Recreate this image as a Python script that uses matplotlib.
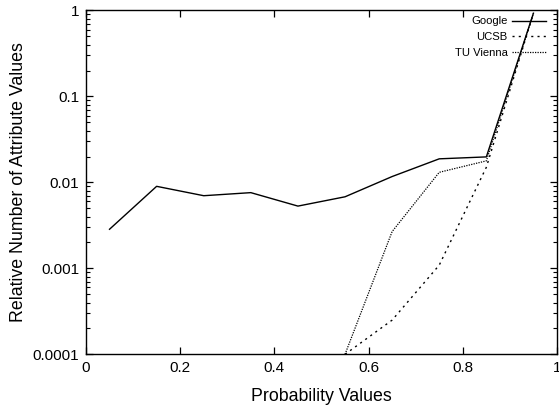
import numpy as np
import matplotlib
matplotlib.use('Agg')
import matplotlib.pyplot as plt
from matplotlib.ticker import FixedLocator, FixedFormatter, LogLocator, NullFormatter

# values (relative number of attribute values per probability bin)
prob_google = [0.05, 0.15, 0.25, 0.35, 0.45, 0.55, 0.65, 0.75, 0.85, 0.95]
google = [0.00285, 0.0090, 0.0070, 0.0076, 0.0053, 0.0068, 0.0117, 0.0188, 0.0198, 0.93]

prob_tail = [0.55, 0.65, 0.75, 0.85, 0.95]
ucsb = [0.0001, 0.00025, 0.00109, 0.0150, 0.93]
tu_vienna = [0.0001, 0.00268, 0.0131, 0.0178, 0.93]

x_ticks = [0, 0.2, 0.4, 0.6, 0.8, 1]
x_labels = ['0', '0.2', '0.4', '0.6', '0.8', '1']
y_ticks = [0.0001, 0.001, 0.01, 0.1, 1]
y_labels = ['0.0001', '0.001', '0.01', '0.1', '1']

plt.rcParams['font.family'] = ['Liberation Sans', 'DejaVu Sans']

fig = plt.figure(figsize=(5.59, 4.08), dpi=100)
ax = fig.add_axes([0.1538, 0.1316, 0.8426, 0.8427])

ax.plot(prob_google, google, color='black', lw=1.0, label='Google')
ax.plot(prob_tail, ucsb, color='black', lw=1.0, linestyle=(0, (1.5, 3)), label='UCSB')
ax.plot(prob_tail, tu_vienna, color='black', lw=0.9, linestyle=(0, (1, 1)), label='TU Vienna')

ax.set_yscale('log')
ax.set_xlim(0, 1)
ax.set_ylim(0.0001, 1)

ax.xaxis.set_major_locator(FixedLocator(x_ticks))
ax.xaxis.set_major_formatter(FixedFormatter(x_labels))
ax.yaxis.set_major_locator(FixedLocator(y_ticks))
ax.yaxis.set_major_formatter(FixedFormatter(y_labels))
ax.yaxis.set_minor_locator(LogLocator(base=10, subs=np.arange(2, 10), numticks=20))
ax.yaxis.set_minor_formatter(NullFormatter())

# gnuplot style: inward ticks on every side
ax.tick_params(which='major', direction='in', length=5, width=0.9,
               top=True, right=True, labelsize=11, pad=5)
ax.tick_params(which='minor', direction='in', length=3, width=0.8,
               top=True, right=True)
for s in ax.spines.values():
    s.set_linewidth(1.0)

ax.set_xlabel('Probability Values', fontsize=12.8, labelpad=9)
ax.set_ylabel('Relative Number of Attribute Values', fontsize=12.8, labelpad=4)

ax.legend(loc='upper right', bbox_to_anchor=(0.9766, 0.9826), frameon=False,
          markerfirst=False, fontsize=8.1, handlelength=3.0, handletextpad=0.4,
          labelspacing=0.5, borderaxespad=0.0, borderpad=0.0)

plt.savefig('out.png', dpi=100)
